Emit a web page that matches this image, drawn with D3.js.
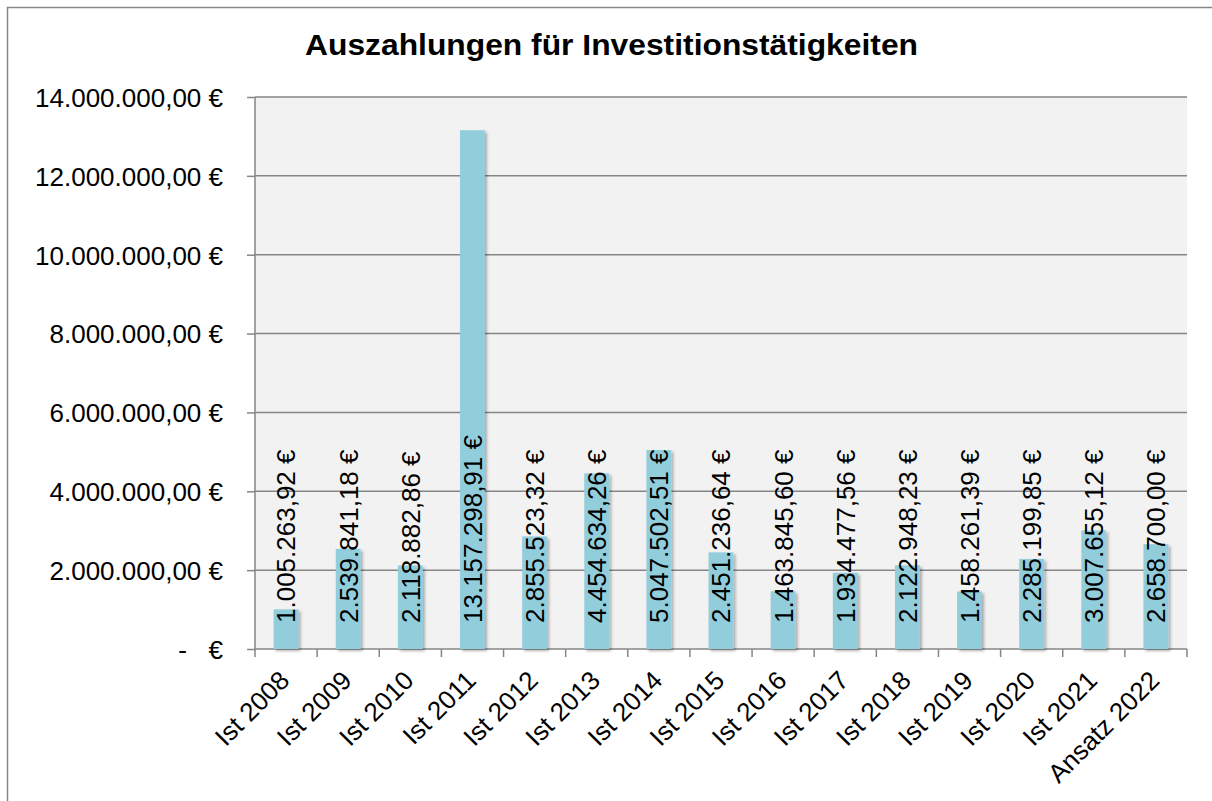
<!DOCTYPE html>
<html>
<head>
<meta charset="utf-8">
<script src="https://cdn.jsdelivr.net/npm/d3@7"></script>
<style>
  body { margin: 0; background: #fff; }
  svg text { font-family: "Liberation Sans", Arial, sans-serif; }
</style>
</head>
<body>
<div id="chart"></div>
<script>
// data
var categories = ["Ist 2008", "Ist 2009", "Ist 2010", "Ist 2011", "Ist 2012", "Ist 2013", "Ist 2014",
    "Ist 2015", "Ist 2016", "Ist 2017", "Ist 2018", "Ist 2019", "Ist 2020", "Ist 2021", "Ansatz 2022"];
var values = [1005263.92, 2539841.18, 2118882.86, 13157298.91, 2855523.32, 4454634.26, 5047502.51,
    2451236.64, 1463845.60, 1934477.56, 2122948.23, 1458261.39, 2285199.85, 3007655.12, 2658700.00];
var yTicks = [0, 2000000, 4000000, 6000000, 8000000, 10000000, 12000000, 14000000];
var title = "Auszahlungen für Investitionstätigkeiten";

var width = 1212, height = 801;
var margin = { top: 97, right: 25, bottom: 152, left: 255 };
var plotW = width - margin.left - margin.right,
    plotH = height - margin.top - margin.bottom;

var axisGrey = "#868686";
var fontSize = "26px";

var svg = d3.select("#chart").append("svg")
    .attr("width", width)
    .attr("height", height);

// drop shadow for the bars
var filter = svg.append("defs").append("filter")
    .attr("id", "shadow")
    .attr("x", "-30%").attr("y", "-10%")
    .attr("width", "160%").attr("height", "120%");
filter.append("feDropShadow")
    .attr("dx", 2).attr("dy", 2)
    .attr("stdDeviation", 1.8)
    .attr("flood-color", "#000")
    .attr("flood-opacity", 0.3);

// outer chart border (cut off at the right and bottom)
svg.append("rect")
    .attr("x", 7.5).attr("y", 7.5)
    .attr("width", width + 20).attr("height", height + 20)
    .attr("fill", "none")
    .attr("stroke", axisGrey)
    .attr("stroke-width", 1.5);

// title
svg.append("text")
    .attr("x", 305)
    .attr("y", 55)
    .attr("textLength", 613)
    .attr("lengthAdjust", "spacingAndGlyphs")
    .style("font-size", "30px")
    .style("font-weight", "bold")
    .text(title);

var g = svg.append("g")
    .attr("transform", "translate(" + margin.left + "," + margin.top + ")");

var x = d3.scaleBand()
    .domain(categories)
    .range([0, plotW])
    .paddingInner(0.6)
    .paddingOuter(0.3);

var y = d3.scaleLinear()
    .domain([0, 14000000])
    .range([plotH, 0]);

// plot background
g.append("rect")
    .attr("width", plotW)
    .attr("height", plotH)
    .attr("fill", "#f2f2f2");

// grid lines
g.selectAll(".grid")
    .data(yTicks.slice(1))
    .enter().append("line")
    .attr("class", "grid")
    .attr("x1", 0).attr("x2", plotW)
    .attr("y1", function(d) { return y(d); })
    .attr("y2", function(d) { return y(d); })
    .attr("stroke", axisGrey)
    .attr("stroke-width", 1.5);

function euro(v) {
    if (v === 0) return "-   €";
    return d3.format(",.2f")(v).replace(/,/g, "#").replace(".", ",").replace(/#/g, ".") + " €";
}

// y axis
var yAxis = g.append("g")
    .call(d3.axisLeft(y).tickValues(yTicks).tickSize(8).tickPadding(24).tickFormat(euro));
yAxis.selectAll("line").attr("stroke", axisGrey).attr("stroke-width", 1.5);
yAxis.select(".domain").attr("stroke", axisGrey).attr("stroke-width", 1.5).attr("d", "M0,0V" + plotH);
yAxis.selectAll("text")
    .attr("fill", "#000")
    .attr("dy", "0.36em")
    .style("font-size", fontSize)
    .style("font-family", "Liberation Sans, Arial, sans-serif")
    .style("white-space", "pre");

// x axis: ticks at category boundaries
var xAxisG = g.append("g").attr("transform", "translate(0," + plotH + ")");
xAxisG.append("line")
    .attr("x1", 0).attr("x2", plotW)
    .attr("stroke", axisGrey).attr("stroke-width", 1.5);
xAxisG.selectAll(".xtick")
    .data(d3.range(categories.length + 1))
    .enter().append("line")
    .attr("class", "xtick")
    .attr("x1", function(i) { return i * plotW / categories.length; })
    .attr("x2", function(i) { return i * plotW / categories.length; })
    .attr("y1", 0).attr("y2", 8)
    .attr("stroke", axisGrey).attr("stroke-width", 1.5);

xAxisG.selectAll(".xlabel")
    .data(categories)
    .enter().append("text")
    .attr("class", "xlabel")
    .attr("transform", function(d) {
        return "translate(" + (x(d) + x.bandwidth() / 2 + 5) + ",33) rotate(-45)";
    })
    .attr("text-anchor", "end")
    .style("font-size", fontSize)
    .text(function(d) { return d; });

// bars
g.selectAll(".bar")
    .data(values)
    .enter().append("rect")
    .attr("class", "bar")
    .attr("x", function(d, i) { return x(categories[i]); })
    .attr("width", x.bandwidth())
    .attr("y", function(d) { return y(d); })
    .attr("height", function(d) { return plotH - y(d); })
    .attr("fill", "#92cddc")
    .attr("filter", "url(#shadow)");

// value labels, inside base, rotated
g.selectAll(".vlabel")
    .data(values)
    .enter().append("text")
    .attr("class", "vlabel")
    .attr("transform", function(d, i) {
        return "translate(" + (x(categories[i]) + x.bandwidth() / 2) + "," + (plotH - 26) + ") rotate(-90)";
    })
    .attr("dy", "0.36em")
    .style("font-size", fontSize)
    .text(function(d) { return euro(d); });
</script>
</body>
</html>
